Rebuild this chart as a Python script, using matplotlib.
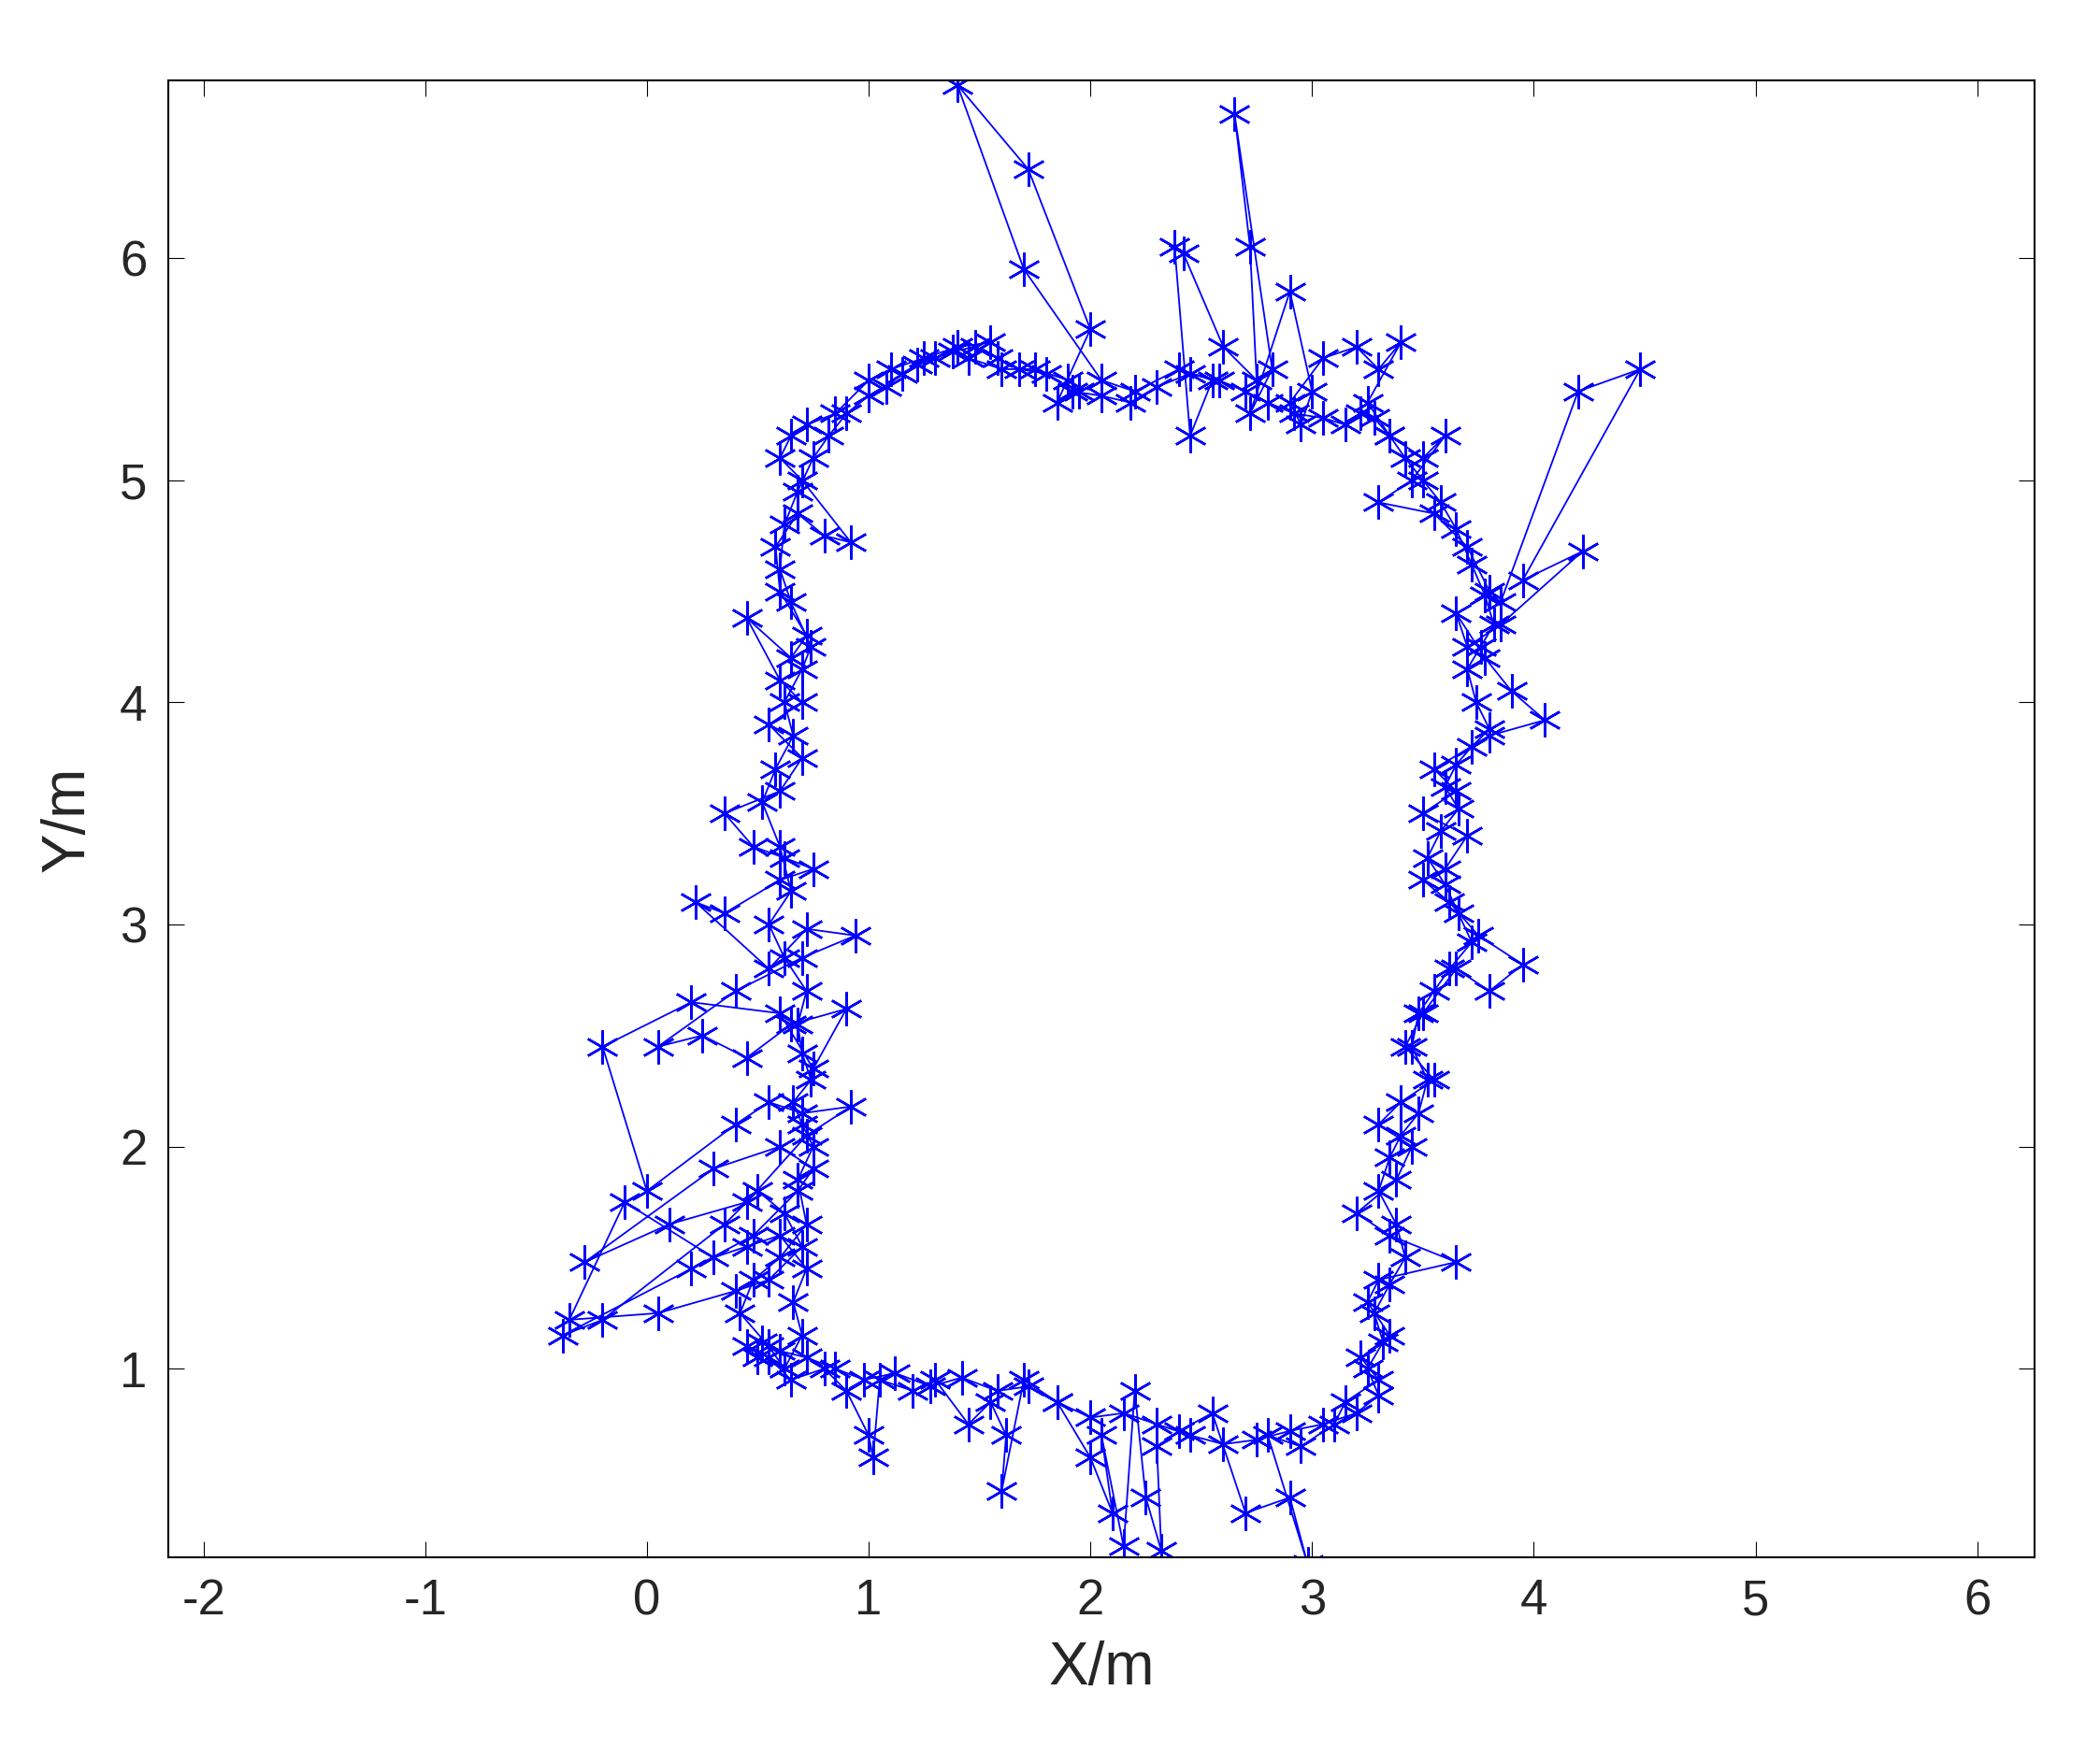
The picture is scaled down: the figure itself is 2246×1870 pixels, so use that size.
import matplotlib.pyplot as plt

plt.rcParams["axes.unicode_minus"] = False
plt.rcParams["font.family"] = ["Liberation Sans", "DejaVu Sans"]

# trajectory estimate (x, y in metres), two laps
xs = [
    0.62, 0.70, 0.66, 0.72, 0.60, 0.45, 0.30, -0.10, -0.35, 0.05, 0.40, 0.55, 0.70, 0.62,
    0.50, 0.35, -0.20, -0.38, 0.20, 0.48, 0.68, 0.75, 0.60, 0.30, -0.28, 0.10, 0.45, 0.72,
    0.92, 0.70, 0.55, 0.40, 0.00, -0.20, 0.20, 0.60, 0.75, 0.90, 0.65, 0.45, 0.25, 0.05,
    0.40, 0.70, 0.94, 0.72, 0.55, 0.22, 0.35, 0.60, 0.75, 0.62, 0.48, 0.35, 0.60, 0.70,
    0.55, 0.70, 0.60, 0.45, 0.65, 0.72, 0.60, 0.58, 0.68, 0.80, 0.92, 0.70, 0.60, 0.65,
    0.72, 0.85, 1.00, 1.10, 1.25, 1.40, 1.55, 1.45, 1.60, 1.75, 1.90, 1.95, 1.85, 2.00,
    1.72, 1.40, 1.70, 2.05, 2.20, 2.40, 2.55, 2.45, 2.38, 2.42, 2.60, 2.75, 2.72, 2.65,
    2.82, 2.72, 2.90, 3.00, 2.95, 2.90, 3.05, 3.20, 3.30, 3.40, 3.25, 3.35, 3.50, 3.60,
    3.45, 3.30, 3.55, 3.70, 3.80, 3.85, 4.20, 4.48, 3.95, 4.22, 3.85, 3.70, 3.65, 3.78,
    3.90, 4.05, 3.80, 3.55, 3.65, 3.50, 3.70, 3.60, 3.50, 3.62, 3.75, 3.95, 3.80, 3.65,
    3.50, 3.42, 3.55, 3.40, 3.30, 3.45, 3.38, 3.20, 3.35, 3.65, 3.30, 3.25, 3.35, 3.22,
    3.30, 3.15, 3.10, 2.95, 2.80, 2.98, 2.90, 2.70, 2.55, 2.40, 2.30, 2.32, 2.25, 2.20,
    2.15, 2.05, 2.10, 2.00, 1.85, 1.70, 1.60, 1.62, 1.55, 1.45, 1.30, 1.20, 1.05, 1.02,
    1.00, 0.90, 0.80, 0.65, 0.55, 0.45, 0.50, 0.62,
    0.55, 0.42, 0.48, 0.60, 0.72, 0.68, 0.75, 0.70, 0.66, 0.74, 0.70, 0.68, 0.72, 0.62,
    0.55, 0.65, 0.60, 0.52, 0.58, 0.66, 0.62, 0.70, 0.74, 0.65, 0.60, 0.62, 0.68, 0.75,
    0.82, 0.90, 1.00, 1.08, 1.15, 1.22, 1.30, 1.38, 1.48, 1.58, 1.68, 1.80, 1.92, 2.05,
    2.18, 2.30, 2.45, 2.58, 2.70, 2.80, 2.92, 3.05, 3.15, 3.22, 3.28, 3.35, 3.42, 3.50,
    3.58, 3.65, 3.72, 3.78, 3.82, 3.76, 3.70, 3.74, 3.80, 3.72, 3.65, 3.60, 3.66, 3.58,
    3.52, 3.60, 3.66, 3.72, 3.62, 3.55, 3.48, 3.45, 3.52, 3.48, 3.40, 3.35, 3.30, 3.38,
    3.42, 3.35, 3.28, 3.32, 3.25, 3.30, 3.20, 3.05, 2.90, 2.75, 2.60, 2.45, 2.30, 2.15,
    2.00, 1.85, 1.72, 1.58, 1.42, 1.28, 1.12, 0.98, 0.85, 0.72, 0.60, 0.52,
]
ys = [
    1.00, 1.15, 1.30, 1.45, 1.60, 1.55, 1.50, 1.75, 1.22, 1.25, 1.35, 1.40, 1.55, 1.70,
    1.80, 1.65, 1.22, 1.15, 1.45, 1.60, 1.80, 1.90, 2.00, 1.90, 1.48, 1.65, 1.75, 2.05,
    2.18, 2.15, 2.20, 2.10, 1.80, 2.45, 2.65, 2.60, 2.35, 2.62, 2.55, 2.40, 2.50, 2.45,
    2.70, 2.85, 2.95, 2.98, 2.80, 3.10, 3.05, 3.20, 3.25, 3.30, 3.35, 3.50, 3.60, 3.75,
    3.90, 4.00, 4.10, 4.38, 4.20, 4.30, 4.50, 4.70, 4.85, 4.75, 4.72, 5.00, 5.10, 5.20,
    5.25, 5.30, 5.45, 5.50, 5.55, 5.60, 5.62, 5.55, 5.50, 5.50, 5.45, 5.40, 5.35, 5.68,
    6.40, 6.78, 5.95, 5.45, 5.40, 5.50, 5.45, 5.20, 6.05, 6.02, 5.60, 5.45, 6.05, 6.65,
    5.50, 5.30, 5.85, 5.40, 5.25, 5.35, 5.55, 5.60, 5.50, 5.62, 5.35, 5.20, 5.10, 5.20,
    5.00, 4.90, 4.85, 4.70, 4.50, 4.45, 5.40, 5.50, 4.55, 4.68, 4.35, 4.25, 4.40, 4.20,
    4.05, 3.92, 3.85, 3.70, 3.60, 3.50, 3.40, 3.25, 3.20, 3.10, 2.95, 2.82, 2.70, 2.80,
    2.60, 2.45, 2.30, 2.20, 2.10, 2.00, 1.85, 1.70, 1.60, 1.48, 1.40, 1.30, 1.15, 1.05,
    0.95, 0.85, 0.75, 0.65, 0.70, 0.12, 0.42, 0.35, 0.80, 0.72, 0.65, 0.18, 0.42, 0.90,
    0.20, 0.70, 0.35, 0.60, 0.85, 0.95, 0.45, 0.70, 0.85, 0.75, 0.95, 0.90, 0.95, 0.60,
    0.70, 0.90, 1.00, 0.95, 1.05, 1.10, 1.05, 1.00,
    1.10, 1.25, 1.40, 1.50, 1.65, 1.85, 2.00, 2.10, 2.20, 2.30, 2.42, 2.55, 2.70, 2.85,
    3.00, 3.15, 3.35, 3.55, 3.70, 3.85, 4.00, 4.15, 4.25, 4.45, 4.60, 4.80, 4.95, 5.10,
    5.20, 5.30, 5.38, 5.42, 5.48, 5.52, 5.55, 5.58, 5.60, 5.55, 5.50, 5.48, 5.40, 5.38,
    5.35, 5.42, 5.48, 5.45, 5.40, 5.35, 5.30, 5.28, 5.25, 5.30, 5.28, 5.20, 5.10, 5.00,
    4.90, 4.78, 4.62, 4.48, 4.35, 4.25, 4.15, 4.00, 3.88, 3.80, 3.72, 3.62, 3.52, 3.42,
    3.30, 3.18, 3.05, 2.92, 2.80, 2.70, 2.60, 2.45, 2.30, 2.15, 2.05, 1.95, 1.80, 1.65,
    1.50, 1.38, 1.25, 1.12, 1.00, 0.88, 0.80, 0.75, 0.72, 0.68, 0.66, 0.70, 0.75, 0.80,
    0.78, 0.85, 0.92, 0.90, 0.96, 0.92, 0.98, 0.95, 1.00, 1.05, 1.08, 1.12,
]

fig = plt.figure(figsize=(22.46, 18.70), dpi=100)
ax = fig.add_axes([0.08, 0.109, 0.889, 0.845])
ax.plot(xs, ys, color="#0000ff", linewidth=1.3, marker=(6, 2, 0), markersize=26,
        markeredgewidth=1.8)
ax.set_xlim(-2.16, 6.26)
ax.set_ylim(0.15, 6.8)
ax.set_xticks(range(-2, 7))
ax.set_yticks(range(1, 7))
ax.tick_params(labelsize=38, direction="in", length=12, top=True, right=True, pad=16,
               labelcolor="#262626")
ax.set_xlabel("X/m", fontsize=46, color="#262626", labelpad=12)
ax.set_ylabel("Y/m", fontsize=46, color="#262626", labelpad=18)
for s in ax.spines.values():
    s.set_linewidth(1.5)
fig.savefig("out.png", dpi=100)
